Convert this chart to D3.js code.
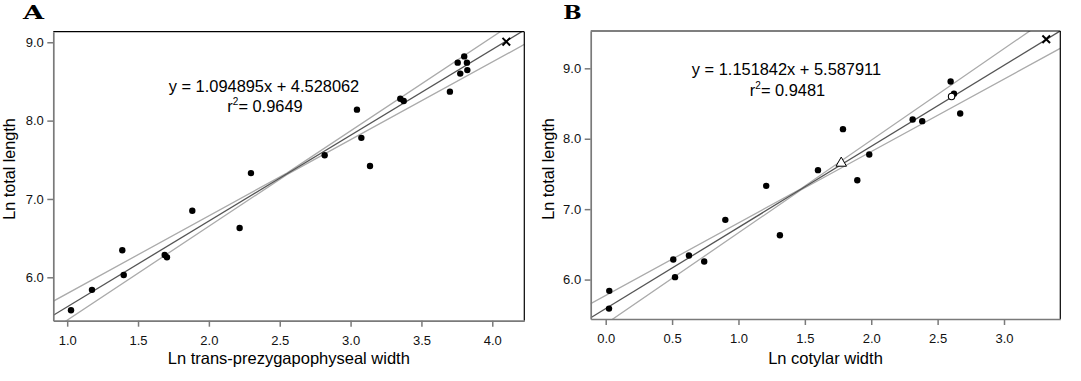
<!DOCTYPE html>
<html><head><meta charset="utf-8">
<script src="https://cdn.jsdelivr.net/npm/d3@7"></script>
<style>
html,body{margin:0;padding:0;background:#fff;}
svg{display:block;font-family:"Liberation Sans",Arial,Helvetica,sans-serif;}
</style></head>
<body>
<svg id="chart" width="1081" height="381"></svg>
<script>
// ---------- Panel A data ----------
const aX = [1.027,1.175,1.389,1.399,1.688,1.704,1.883,2.217,2.297,2.817,3.045,3.076,3.137,3.351,3.375,3.701,3.756,3.774,3.802,3.821,3.824];
const aY = [5.58,5.84,6.345,6.03,6.285,6.255,6.85,6.63,7.33,7.558,8.14,7.78,7.42,8.28,8.25,8.37,8.74,8.60,8.82,8.74,8.645];
const aCross = [4.099, 9.008];
const aSlope = 1.094895, aIntercept = 4.528062;
const aBandX = [0.90, 2.55, 4.23];
const aBandUpper = [5.693, 7.330, 9.343];
const aBandLower = [5.333, 7.310, 8.976];
const aXTicks = [1.0,1.5,2.0,2.5,3.0,3.5,4.0];
const aYTicks = [6.0,7.0,8.0,9.0];
const aEq = ["y = 1.094895x + 4.528062", "0.9649"];

// ---------- Panel B data ----------
const bX = [0.025,0.027,0.509,0.522,0.627,0.742,0.901,1.209,1.312,1.599,1.787,1.895,1.985,2.312,2.384,2.598,2.623,2.670];
const bY = [5.588,5.84,6.284,6.034,6.341,6.256,6.848,7.331,6.63,7.554,8.136,7.41,7.776,8.273,8.25,8.812,8.638,8.358];
const bTriangle = [1.774, 7.653];
const bCircle = [2.605, 8.60];
const bCross = [3.318, 9.413];
const bSlope = 1.151842, bIntercept = 5.587911;
const bBandX = [-0.12, 1.47, 3.43];
const bBandUpper = [5.650, 7.290, 9.837];
const bBandLower = [5.215, 7.272, 9.290];
const bXTicks = [0.0,0.5,1.0,1.5,2.0,2.5,3.0];
const bYTicks = [6.0,7.0,8.0,9.0];
const bEq = ["y = 1.151842x + 5.587911", "0.9481"];

const svg = d3.select("#chart");

function panel(cfg){
  const g = svg.append("g");
  const x = d3.scaleLinear().domain(cfg.xDomain).range(cfg.xRange);
  const y = d3.scaleLinear().domain(cfg.yDomain).range(cfg.yRange);
  const [x0,x1] = cfg.xRange, [y1,y0] = cfg.yRange;

  const clipId = "clip" + cfg.id;
  svg.append("clipPath").attr("id", clipId).append("rect")
    .attr("x", x0).attr("y", y0).attr("width", x1-x0).attr("height", y1-y0);

  const plot = g.append("g").attr("clip-path", `url(#${clipId})`);
  const line = d3.line().x(d=>x(d[0])).y(d=>y(d[1]));

  // confidence bands
  [cfg.bandUpper, cfg.bandLower].forEach(arr=>{
    plot.append("path").datum(cfg.bandX.map((v,i)=>[v,arr[i]]))
      .attr("d", line).attr("fill","none").attr("stroke","#ababab").attr("stroke-width",1.3);
  });
  // regression line
  const xd = x.domain();
  plot.append("path").datum(xd.map(v=>[v, cfg.slope*v + cfg.intercept]))
    .attr("d", line).attr("fill","none").attr("stroke","#555").attr("stroke-width",1.3);

  // frame top/right
  g.append("line").attr("x1",x0).attr("x2",x1).attr("y1",y0).attr("y2",y0).attr("stroke","#000").attr("stroke-width",1.2);
  g.append("line").attr("x1",x1).attr("x2",x1).attr("y1",y0).attr("y2",y1).attr("stroke","#000").attr("stroke-width",1.2);

  // axes
  const ax = g.append("g").attr("transform",`translate(0,${y1})`)
    .call(d3.axisBottom(x).tickValues(cfg.xTicks).tickFormat(d3.format(".1f")).tickSize(6).tickSizeOuter(0).tickPadding(9));
  const ay = g.append("g").attr("transform",`translate(${x0},0)`)
    .call(d3.axisLeft(y).tickValues(cfg.yTicks).tickFormat(d3.format(".1f")).tickSize(6).tickSizeOuter(0).tickPadding(3.5));
  [ax,ay].forEach(a=>{
    a.select(".domain").attr("stroke","#7a7a7a").attr("stroke-width",1.7);
    a.selectAll(".tick line").attr("stroke","#7a7a7a").attr("stroke-width",1.5);
    a.selectAll(".tick text").attr("fill","#111").style("font-size","13px").style("font-family","'Liberation Sans',Arial,sans-serif");
  });

  // points
  plot.selectAll("circle.pt").data(cfg.xs.map((v,i)=>[v,cfg.ys[i]])).join("circle")
    .attr("class","pt").attr("cx",d=>x(d[0])).attr("cy",d=>y(d[1])).attr("r",3.2).attr("fill","#000");

  if (cfg.circle){
    plot.append("circle").attr("cx",x(cfg.circle[0])).attr("cy",y(cfg.circle[1])).attr("r",3.2)
      .attr("fill","#fff").attr("stroke","#000").attr("stroke-width",1.1);
  }
  if (cfg.triangle){
    const tx = x(cfg.triangle[0]), ty = y(cfg.triangle[1]);
    plot.append("path").attr("d", d3.symbol(d3.symbolTriangle, 48)())
      .attr("transform",`translate(${tx},${ty})`).attr("fill","#fff").attr("stroke","#000").attr("stroke-width",1);
  }
  {
    const cx = x(cfg.cross[0]), cy = y(cfg.cross[1]), s = 3.8;
    const c = g.append("g").attr("transform",`translate(${cx},${cy})`);
    c.append("line").attr("x1",-s).attr("y1",-s).attr("x2",s).attr("y2",s).attr("stroke","#000").attr("stroke-width",2);
    c.append("line").attr("x1",-s).attr("y1",s).attr("x2",s).attr("y2",-s).attr("stroke","#000").attr("stroke-width",2);
  }

  // equation text
  g.append("text").attr("x",cfg.eqX).attr("y",cfg.eqY).attr("text-anchor","middle")
    .style("font-size","16.4px").attr("fill","#000").text(cfg.eq[0]);
  const t2 = g.append("text").attr("x",cfg.eqX+1).attr("y",cfg.eqY+cfg.eqGap).attr("text-anchor","middle")
    .style("font-size","16.4px").attr("fill","#000");
  t2.append("tspan").text("r");
  t2.append("tspan").attr("dy",-7).style("font-size","10px").text("2");
  t2.append("tspan").attr("dy",7).text("= " + cfg.eq[1]);

  // axis titles
  g.append("text").attr("x",(x0+x1)/2).attr("y",cfg.xTitleY).attr("text-anchor","middle")
    .style("font-size","16.5px").attr("fill","#000").text(cfg.xTitle);
  g.append("text").attr("transform",`translate(${cfg.yTitleX},${cfg.yTitleCy}) rotate(-90)`).attr("text-anchor","middle")
    .style("font-size","16.2px").attr("fill","#000").text("Ln total length");

  // panel letter
  g.append("text").attr("x",cfg.letterX).attr("y",18.5)
    .style("font-family","'DejaVu Serif',serif").style("font-weight","bold").style("font-size","19px")
    .attr("textLength",cfg.letterW).attr("lengthAdjust","spacingAndGlyphs").attr("fill","#000").text(cfg.letter);
}

panel({
  id:"A", xs:aX, ys:aY, cross:aCross, slope:aSlope, intercept:aIntercept,
  bandX:aBandX, bandUpper:aBandUpper, bandLower:aBandLower,
  xTicks:aXTicks, yTicks:aYTicks, eq:aEq,
  xDomain:[0.902,4.226], yDomain:[5.446,9.135], xRange:[53.3,524.3], yRange:[320.7,31.7],
  eqX:264, eqY:91.5, eqGap:20, xTitle:"Ln trans-prezygapophyseal width", xTitleY:364,
  yTitleX:14.5, yTitleCy:169, letter:"A", letterX:23, letterW:21
});
panel({
  id:"B", xs:bX, ys:bY, cross:bCross, triangle:bTriangle, circle:bCircle, slope:bSlope, intercept:bIntercept,
  bandX:bBandX, bandUpper:bBandUpper, bandLower:bBandLower,
  xTicks:bXTicks, yTicks:bYTicks, eq:bEq,
  xDomain:[-0.113,3.424], yDomain:[5.44,9.53], xRange:[590.7,1060.3], yRange:[319,31],
  eqX:786.5, eqY:75, eqGap:21, xTitle:"Ln cotylar width", xTitleY:364,
  yTitleX:554, yTitleCy:169, letter:"B", letterX:563.3, letterW:18.5
});
</script>
</body></html>
